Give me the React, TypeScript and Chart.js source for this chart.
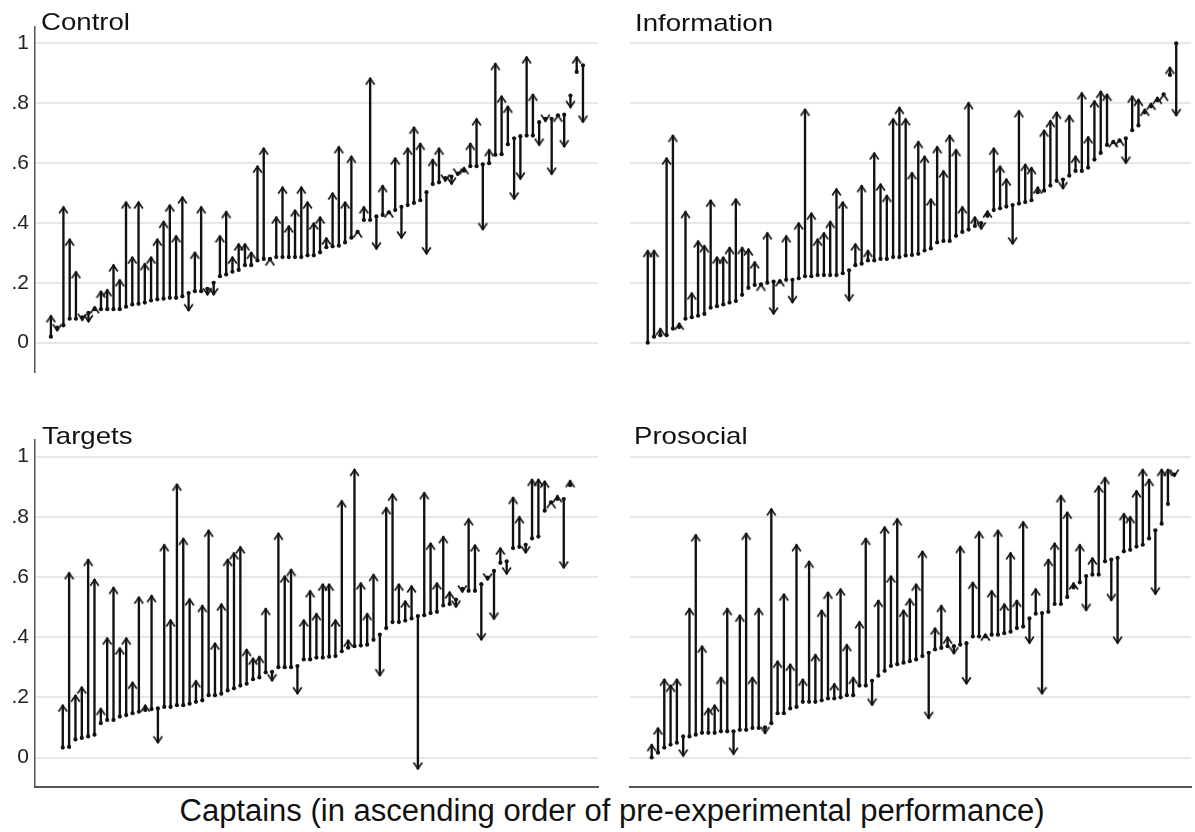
import React, { useEffect, useRef } from 'react';
import { Chart, registerables } from 'chart.js';
Chart.register(...registerables);

// ---------- DATA (pre = pre-experimental performance, post = experimental performance) ----------
const controlPre = [0.02, 0.05, 0.058, 0.08, 0.08, 0.085, 0.1, 0.112, 0.112, 0.112, 0.112, 0.112, 0.12, 0.128, 0.13, 0.134, 0.141, 0.145, 0.147, 0.15, 0.15, 0.155, 0.166, 0.172, 0.172, 0.18, 0.2, 0.222, 0.228, 0.237, 0.243, 0.259, 0.259, 0.275, 0.28, 0.28, 0.286, 0.286, 0.286, 0.286, 0.286, 0.292, 0.292, 0.302, 0.319, 0.322, 0.324, 0.335, 0.351, 0.37, 0.41, 0.41, 0.422, 0.427, 0.435, 0.443, 0.454, 0.46, 0.467, 0.476, 0.503, 0.53, 0.536, 0.55, 0.555, 0.565, 0.575, 0.59, 0.59, 0.596, 0.6, 0.628, 0.63, 0.663, 0.683, 0.69, 0.692, 0.692, 0.737, 0.748, 0.748, 0.76, 0.762, 0.826, 0.905, 0.927];
const controlPost = [0.09, 0.04, 0.454, 0.346, 0.237, 0.075, 0.07, 0.12, 0.172, 0.177, 0.26, 0.21, 0.47, 0.286, 0.47, 0.264, 0.286, 0.346, 0.405, 0.46, 0.357, 0.487, 0.107, 0.302, 0.454, 0.16, 0.16, 0.357, 0.438, 0.286, 0.33, 0.33, 0.302, 0.59, 0.65, 0.28, 0.42, 0.52, 0.39, 0.443, 0.52, 0.47, 0.4, 0.42, 0.35, 0.5, 0.655, 0.47, 0.623, 0.373, 0.454, 0.884, 0.313, 0.525, 0.44, 0.617, 0.35, 0.65, 0.72, 0.666, 0.297, 0.612, 0.65, 0.54, 0.53, 0.56, 0.585, 0.666, 0.748, 0.378, 0.645, 0.933, 0.824, 0.79, 0.48, 0.547, 0.955, 0.83, 0.66, 0.74, 0.563, 0.76, 0.655, 0.786, 0.955, 0.737];

const informationPre = [0.0, 0.02, 0.025, 0.025, 0.047, 0.052, 0.08, 0.085, 0.09, 0.096, 0.117, 0.122, 0.128, 0.134, 0.139, 0.16, 0.183, 0.193, 0.195, 0.2, 0.204, 0.204, 0.21, 0.21, 0.215, 0.222, 0.222, 0.226, 0.226, 0.226, 0.226, 0.232, 0.242, 0.259, 0.264, 0.275, 0.275, 0.28, 0.28, 0.286, 0.286, 0.291, 0.293, 0.297, 0.308, 0.315, 0.335, 0.34, 0.34, 0.357, 0.37, 0.378, 0.39, 0.4, 0.424, 0.443, 0.449, 0.455, 0.46, 0.465, 0.47, 0.476, 0.503, 0.508, 0.525, 0.541, 0.545, 0.558, 0.574, 0.574, 0.585, 0.612, 0.634, 0.661, 0.67, 0.675, 0.683, 0.71, 0.726, 0.77, 0.79, 0.81, 0.83, 0.895, 1.0];
const informationPost = [0.308, 0.308, 0.047, 0.617, 0.693, 0.065, 0.438, 0.166, 0.34, 0.324, 0.476, 0.286, 0.286, 0.318, 0.48, 0.318, 0.313, 0.27, 0.195, 0.367, 0.096, 0.21, 0.357, 0.134, 0.4, 0.78, 0.433, 0.346, 0.367, 0.405, 0.514, 0.47, 0.14, 0.33, 0.525, 0.308, 0.634, 0.53, 0.492, 0.748, 0.786, 0.748, 0.568, 0.672, 0.623, 0.48, 0.655, 0.574, 0.693, 0.645, 0.454, 0.802, 0.42, 0.38, 0.44, 0.65, 0.59, 0.547, 0.33, 0.775, 0.596, 0.585, 0.52, 0.71, 0.742, 0.77, 0.515, 0.759, 0.623, 0.835, 0.688, 0.808, 0.84, 0.83, 0.675, 0.68, 0.6, 0.824, 0.813, 0.78, 0.8, 0.82, 0.83, 0.92, 0.759];

const targetsPre = [0.033, 0.035, 0.06, 0.065, 0.07, 0.076, 0.114, 0.125, 0.125, 0.136, 0.141, 0.147, 0.152, 0.158, 0.161, 0.163, 0.168, 0.168, 0.174, 0.174, 0.179, 0.185, 0.19, 0.207, 0.207, 0.212, 0.223, 0.23, 0.239, 0.245, 0.26, 0.266, 0.283, 0.285, 0.3, 0.3, 0.3, 0.304, 0.326, 0.326, 0.332, 0.332, 0.335, 0.337, 0.353, 0.365, 0.37, 0.372, 0.375, 0.391, 0.408, 0.43, 0.45, 0.45, 0.455, 0.462, 0.47, 0.473, 0.48, 0.484, 0.505, 0.51, 0.525, 0.56, 0.554, 0.554, 0.576, 0.598, 0.62, 0.647, 0.652, 0.696, 0.7, 0.707, 0.728, 0.734, 0.82, 0.848, 0.859, 0.859, 0.905];
const targetsPost = [0.174, 0.614, 0.207, 0.234, 0.658, 0.592, 0.163, 0.397, 0.565, 0.364, 0.397, 0.25, 0.533, 0.174, 0.538, 0.049, 0.707, 0.457, 0.908, 0.728, 0.527, 0.255, 0.505, 0.755, 0.38, 0.51, 0.658, 0.68, 0.7, 0.359, 0.33, 0.336, 0.495, 0.255, 0.745, 0.603, 0.625, 0.212, 0.457, 0.554, 0.478, 0.576, 0.576, 0.457, 0.853, 0.39, 0.957, 0.58, 0.478, 0.608, 0.272, 0.83, 0.875, 0.576, 0.52, 0.57, -0.038, 0.88, 0.712, 0.58, 0.734, 0.55, 0.5, 0.55, 0.793, 0.706, 0.391, 0.59, 0.46, 0.696, 0.61, 0.864, 0.8, 0.68, 0.924, 0.924, 0.918, 0.85, 0.87, 0.63, 0.92];

const prosocialPre = [0.0, 0.016, 0.033, 0.043, 0.049, 0.07, 0.07, 0.076, 0.082, 0.082, 0.082, 0.087, 0.087, 0.087, 0.092, 0.092, 0.098, 0.098, 0.1, 0.114, 0.147, 0.147, 0.163, 0.168, 0.185, 0.185, 0.185, 0.19, 0.196, 0.196, 0.2, 0.207, 0.207, 0.239, 0.239, 0.255, 0.272, 0.288, 0.304, 0.31, 0.315, 0.32, 0.326, 0.337, 0.348, 0.359, 0.364, 0.37, 0.37, 0.375, 0.38, 0.402, 0.402, 0.402, 0.408, 0.408, 0.413, 0.418, 0.43, 0.435, 0.462, 0.478, 0.48, 0.484, 0.51, 0.51, 0.533, 0.565, 0.582, 0.603, 0.608, 0.608, 0.652, 0.658, 0.663, 0.685, 0.69, 0.701, 0.707, 0.728, 0.755, 0.777, 0.842, 0.94];
const prosocialPost = [0.043, 0.098, 0.26, 0.24, 0.26, 0.005, 0.495, 0.74, 0.37, 0.163, 0.174, 0.266, 0.495, 0.011, 0.473, 0.745, 0.266, 0.495, 0.08, 0.826, 0.32, 0.543, 0.31, 0.707, 0.26, 0.652, 0.342, 0.489, 0.549, 0.245, 0.56, 0.375, 0.266, 0.451, 0.728, 0.174, 0.522, 0.766, 0.603, 0.793, 0.489, 0.527, 0.576, 0.685, 0.13, 0.43, 0.505, 0.4, 0.345, 0.701, 0.245, 0.582, 0.75, 0.41, 0.554, 0.755, 0.51, 0.68, 0.522, 0.783, 0.38, 0.56, 0.212, 0.658, 0.712, 0.87, 0.815, 0.58, 0.707, 0.489, 0.663, 0.902, 0.93, 0.522, 0.38, 0.81, 0.8, 0.886, 0.957, 0.924, 0.543, 0.957, 0.957, 0.935];

const panelTitles = ['Control', 'Information', 'Targets', 'Prosocial'];
const yTickValues = [0, 0.2, 0.4, 0.6, 0.8, 1];
const xAxisTitle = 'Captains (in ascending order of pre-experimental performance)';

// ---------- helpers ----------
function makeHead(up: boolean): HTMLCanvasElement {
  const c = document.createElement('canvas');
  c.width = 11;
  c.height = 16;
  const g = c.getContext('2d') as CanvasRenderingContext2D;
  g.strokeStyle = '#111';
  g.lineWidth = 1.7;
  g.lineJoin = 'miter';
  g.lineCap = 'butt';
  g.beginPath();
  if (up) {
    g.moveTo(1.2, 14.4);
    g.lineTo(5.5, 8.2);
    g.lineTo(9.8, 14.4);
  } else {
    g.moveTo(1.2, 1.6);
    g.lineTo(5.5, 7.8);
    g.lineTo(9.8, 1.6);
  }
  g.stroke();
  return c;
}

function fmtTick(v: any): string {
  const n = Number(v);
  if (Math.abs(n) < 1e-9) return '0';
  if (Math.abs(n - 1) < 1e-9) return '1';
  return n.toFixed(1).replace(/^0/, '');
}

type PanelProps = {
  pre: number[];
  post: number[];
  xMin: number;
  xMax: number;
  showY: boolean;
  showXLine: boolean;
  left: number;
  top: number;
  width: number;
  height: number;
};

function Panel({ pre, post, xMin, xMax, showY, showXLine, left, top, width, height }: PanelProps) {
  const ref = useRef<HTMLCanvasElement | null>(null);
  useEffect(() => {
    if (!ref.current) return;
    const up = makeHead(true);
    const down = makeHead(false);
    const shafts = pre.map((p, i) => ({ x: i + 1, y: [p, post[i]] }));
    const dots = pre.map((p, i) => ({ x: i + 1, y: p }));
    const heads = post.map((p, i) => ({ x: i + 1, y: p }));
    const chart = new Chart(ref.current, {
      type: 'bar',
      data: {
        datasets: [
          {
            type: 'bar',
            data: shafts as any,
            backgroundColor: '#111',
            borderWidth: 0,
            barThickness: 1.7,
            order: 3,
          } as any,
          {
            type: 'scatter',
            data: dots,
            pointRadius: 2.1,
            pointBackgroundColor: '#111',
            pointBorderWidth: 0,
            order: 2,
          } as any,
          {
            type: 'scatter',
            data: heads,
            pointRadius: 3,
            pointBorderWidth: 0,
            pointStyle: (ctx: any) => (post[ctx.dataIndex] >= pre[ctx.dataIndex] ? up : down),
            order: 1,
          } as any,
        ],
      },
      options: {
        responsive: false,
        animation: false,
        layout: { padding: 0 },
        plugins: { legend: { display: false }, tooltip: { enabled: false }, title: { display: false } },
        scales: {
          x: {
            type: 'linear',
            min: xMin,
            max: xMax,
            offset: false,
            grid: { display: false, drawTicks: false },
            ticks: { display: false },
            border: { display: showXLine, color: '#555', width: 2 },
            afterFit: (s: any) => {
              s.height = showXLine ? 1 : 0;
              s.paddingLeft = 0;
              s.paddingRight = 0;
            },
          },
          y: {
            type: 'linear',
            min: -0.098,
            max: 1.055,
            afterBuildTicks: (s: any) => {
              s.ticks = yTickValues.map((v) => ({ value: v }));
            },
            grid: { color: '#e7e7e7', lineWidth: 2, drawTicks: false },
            border: { display: showY, color: '#555', width: 1.5 },
            ticks: {
              display: showY,
              padding: 6,
              color: '#222',
              font: { family: '"Liberation Sans", Arial, sans-serif', size: 21 },
              callback: (v: any) => fmtTick(v),
            },
            afterFit: (s: any) => {
              s.width = showY ? 35 : 0;
              s.paddingTop = 0;
              s.paddingBottom = 0;
            },
          },
        },
      } as any,
    });
    return () => chart.destroy();
  }, []);
  return (
    <canvas
      ref={ref}
      width={width}
      height={height}
      style={{ position: 'absolute', left, top, width, height }}
    />
  );
}

const titleStyle: React.CSSProperties = {
  position: 'absolute',
  fontFamily: '"Liberation Sans", Arial, sans-serif',
  fontSize: 24,
  lineHeight: '24px',
  color: '#111',
  transform: 'scaleX(1.15)',
  transformOrigin: 'left top',
  whiteSpace: 'nowrap',
};

export default function App() {
  return (
    <div style={{ position: 'absolute', left: 0, top: 0, width: 1195, height: 832, background: '#fff', overflow: 'hidden' }}>
      <Panel pre={controlPre} post={controlPost} xMin={-1.54} xMax={88.4} showY={true} showXLine={false} left={0} top={23} width={602} height={353} />
      <Panel pre={informationPre} post={informationPost} xMin={-1.82} xMax={87.35} showY={false} showXLine={false} left={626} top={23} width={569} height={353} />
      <Panel pre={targetsPre} post={targetsPost} xMin={-3.38} xMax={85.4} showY={true} showXLine={true} left={0} top={436} width={602} height={355} />
      <Panel pre={prosocialPre} post={prosocialPost} xMin={-2.445} xMax={86.66} showY={false} showXLine={true} left={626} top={436} width={569} height={355} />
      <div style={{ ...titleStyle, left: 41, top: 10 }}>{panelTitles[0]}</div>
      <div style={{ ...titleStyle, left: 635, top: 11 }}>{panelTitles[1]}</div>
      <div style={{ ...titleStyle, left: 42, top: 424 }}>{panelTitles[2]}</div>
      <div style={{ ...titleStyle, left: 634, top: 424 }}>{panelTitles[3]}</div>
      <div
        style={{
          position: 'absolute',
          left: 0,
          width: 1224,
          top: 795,
          textAlign: 'center',
          fontFamily: '"Liberation Sans", Arial, sans-serif',
          fontSize: 31,
          lineHeight: '31px',
          color: '#111',
          whiteSpace: 'nowrap',
        }}
      >
        {xAxisTitle}
      </div>
    </div>
  );
}
